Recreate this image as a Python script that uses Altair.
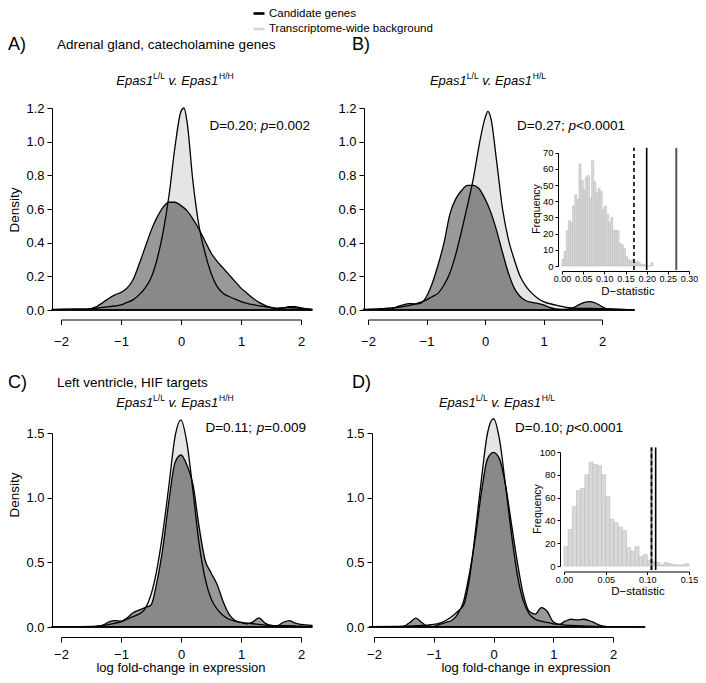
import altair as alt
import pandas as pd

FONT = "Liberation Sans"
W, H = 690, 667

# ---------------- density curves (log fold-change, density) ----------------
A_bg_x = [-2.15, -2.0, -1.8, -1.6, -1.4, -1.2, -1.0, -0.9, -0.8, -0.7, -0.6, -0.5, -0.4, -0.3, -0.2, -0.1,
          0.0, 0.05, 0.1, 0.2, 0.3, 0.4, 0.5, 0.6, 0.7, 0.8, 0.9, 1.0, 1.1, 1.2, 1.4, 1.6, 1.8, 2.0, 2.18]
A_bg_y = [0.003, 0.005, 0.006, 0.006, 0.012, 0.02, 0.03, 0.045, 0.06, 0.09, 0.13, 0.19, 0.3, 0.46, 0.68, 0.97,
          1.18, 1.2, 1.12, 0.76, 0.5, 0.34, 0.22, 0.14, 0.1, 0.08, 0.065, 0.05, 0.04, 0.032, 0.02, 0.01, 0.015, 0.01, 0.004]
A_c_x = [-2.15, -1.6, -1.5, -1.4, -1.3, -1.2, -1.1, -1.0, -0.9, -0.8, -0.7, -0.6, -0.5, -0.4, -0.3, -0.2, -0.1,
         0.0, 0.1, 0.2, 0.3, 0.4, 0.5, 0.6, 0.7, 0.8, 0.9, 1.0, 1.1, 1.2, 1.3, 1.4, 1.5, 1.6, 1.7, 1.8, 1.9, 2.0, 2.18]
A_c_y = [0.0, 0.002, 0.008, 0.022, 0.045, 0.07, 0.09, 0.105, 0.13, 0.18, 0.27, 0.37, 0.47, 0.55, 0.61, 0.64, 0.64,
         0.62, 0.59, 0.54, 0.48, 0.41, 0.34, 0.29, 0.25, 0.21, 0.17, 0.13, 0.1, 0.07, 0.045, 0.028, 0.016, 0.01, 0.012,
         0.02, 0.02, 0.012, 0.004]

B_bg_x = [-2.08, -1.8, -1.6, -1.4, -1.2, -1.0, -0.9, -0.8, -0.7, -0.6, -0.5, -0.4, -0.3, -0.2, -0.1, 0.0, 0.05,
          0.1, 0.2, 0.3, 0.4, 0.5, 0.6, 0.7, 0.8, 0.9, 1.0, 1.2, 1.4, 1.6, 1.8, 2.0, 2.2, 2.55]
B_bg_y = [0.004, 0.008, 0.012, 0.02, 0.035, 0.06, 0.08, 0.1, 0.15, 0.22, 0.33, 0.47, 0.62, 0.78, 0.98, 1.14, 1.18,
          1.14, 0.88, 0.6, 0.42, 0.3, 0.2, 0.14, 0.1, 0.07, 0.05, 0.03, 0.015, 0.01, 0.01, 0.008, 0.005, 0.002]
B_c_x = [-2.08, -1.7, -1.6, -1.5, -1.4, -1.3, -1.2, -1.1, -1.0, -0.9, -0.8, -0.7, -0.6, -0.5, -0.4, -0.3, -0.2,
         -0.1, 0.0, 0.1, 0.2, 0.3, 0.4, 0.5, 0.6, 0.7, 0.8, 0.9, 1.0, 1.1, 1.2, 1.3, 1.4, 1.5, 1.6, 1.7, 1.8, 1.9,
         2.0, 2.1, 2.55]
B_c_y = [0.0, 0.0, 0.005, 0.02, 0.03, 0.038, 0.036, 0.04, 0.08, 0.16, 0.27, 0.4, 0.57, 0.66, 0.71, 0.74, 0.74,
         0.72, 0.66, 0.58, 0.47, 0.34, 0.22, 0.13, 0.08, 0.055, 0.045, 0.04, 0.03, 0.015, 0.006, 0.003, 0.005, 0.012,
         0.03, 0.045, 0.05, 0.04, 0.02, 0.006, 0.0]

C_x = [-2.15, -1.8, -1.5, -1.4, -1.3, -1.2, -1.1, -1.0, -0.9, -0.8, -0.7, -0.6, -0.5, -0.4, -0.3, -0.2, -0.1,
       0.0, 0.1, 0.2, 0.3, 0.4, 0.5, 0.6, 0.7, 0.8, 0.9, 1.0, 1.1, 1.2, 1.3, 1.4, 1.5, 1.6, 1.7, 1.8, 1.9, 2.0, 2.18]
C_bg_y = [0.003, 0.003, 0.005, 0.008, 0.012, 0.02, 0.03, 0.04, 0.06, 0.08, 0.1, 0.14, 0.25, 0.45, 0.74, 1.1, 1.47,
          1.6, 1.42, 1.05, 0.65, 0.38, 0.22, 0.14, 0.09, 0.06, 0.045, 0.035, 0.03, 0.025, 0.02, 0.015, 0.012, 0.01,
          0.01, 0.01, 0.008, 0.006, 0.004]
C_c_y = [0.0, 0.0, 0.0, 0.002, 0.015, 0.04, 0.05, 0.045, 0.07, 0.11, 0.13, 0.15, 0.17, 0.35, 0.62, 0.98, 1.27,
         1.33, 1.25, 1.1, 0.78, 0.52, 0.42, 0.33, 0.2, 0.1, 0.05, 0.035, 0.025, 0.04, 0.07, 0.03, 0.012, 0.01, 0.035,
         0.05, 0.03, 0.02, 0.012]

D_x = [-2.07, -1.6, -1.5, -1.4, -1.3, -1.2, -1.1, -1.0, -0.9, -0.8, -0.7, -0.6, -0.5, -0.4, -0.3, -0.2, -0.1,
       0.0, 0.1, 0.2, 0.3, 0.4, 0.5, 0.6, 0.7, 0.8, 0.9, 1.0, 1.1, 1.2, 1.3, 1.4, 1.5, 1.6, 1.7, 1.8, 1.9, 2.0, 2.3, 2.53]
D_bg_y = [0.003, 0.005, 0.006, 0.008, 0.01, 0.012, 0.015, 0.02, 0.03, 0.05, 0.08, 0.12, 0.17, 0.38, 0.75, 1.15, 1.5,
          1.61, 1.45, 1.1, 0.72, 0.4, 0.2, 0.1, 0.06, 0.045, 0.035, 0.025, 0.02, 0.015, 0.012, 0.01, 0.008, 0.006,
          0.005, 0.004, 0.003, 0.003, 0.002, 0.001]
D_c_y = [0.0, 0.0, 0.005, 0.035, 0.068, 0.035, 0.006, 0.005, 0.02, 0.035, 0.05, 0.1, 0.2, 0.42, 0.7, 1.05, 1.3,
         1.35, 1.3, 1.1, 0.8, 0.5, 0.25, 0.12, 0.1, 0.15, 0.12, 0.04, 0.02, 0.045, 0.06, 0.055, 0.06, 0.05, 0.03,
         0.01, 0.002, 0.0, 0.0, 0.0]

# ---------------- permutation histograms of D-statistic ----------------
BIN_W = 0.005
HIST_B = [4, 9, 22, 28, 27, 37, 44, 41, 63, 53, 47, 55, 56, 42, 65, 52, 45, 48, 46, 35, 37, 32, 27, 30, 22, 22,
          22, 14, 13, 11, 6, 4, 3, 4, 2, 3, 2, 1, 1, 0, 0, 0, 2]
HIST_D = [17, 32, 52, 66, 68, 80, 91, 89, 88, 80, 61, 41, 38, 34, 31, 16, 13, 17, 8, 10, 5, 4, 3, 1, 3, 2, 1, 1,
          1, 2]
LINES_B = {"dashed": [0.17], "black": [0.20], "gray": [0.27]}
LINES_D = {"gray": [0.105], "dashed": [0.105], "black": [0.11]}

# ---------------- text ----------------
LEGEND = ["Candidate genes", "Transcriptome-wide background"]
HEAD_TOP = "Adrenal gland, catecholamine genes"
HEAD_BOT = "Left ventricle, HIF targets"
SUBS = {"A": "H/H", "B": "H/L", "C": "H/H", "D": "H/L"}
STATS = {"A": ("D=0.20; ", "=0.002"), "B": ("D=0.27; ", "<0.0001"),
         "C": ("D=0.11; ", "=0.009"), "D": ("D=0.10; ", "<0.0001")}

# Arial / Liberation Sans advance widths (1/1000 em)
WID = {' ': 278, '.': 278, ',': 278, ';': 278, '=': 584, '<': 584, '/': 278, '-': 333, ')': 333,
       'A': 667, 'B': 667, 'C': 722, 'D': 722, 'E': 667, 'H': 722, 'L': 556,
       'a': 556, 'e': 556, 'i': 222, 'l': 222, 'p': 556, 's': 500, 'v': 500}


def tw(s, size):
    return sum(WID.get(ch, 556) for ch in s) / 1000.0 * size


def label(s, x, y, size, style="normal", align="left", angle=0, baseline="middle"):
    return alt.Chart(pd.DataFrame({"t": [s]})).mark_text(
        align=align, baseline=baseline, font=FONT, fontSize=size, fontStyle=style,
        angle=angle, color="black"
    ).encode(text="t:N", x=alt.value(x), y=alt.value(y))


def rich(segs, x, yc, align="left"):
    # segs: (text, size, style, raise)
    total = sum(tw(t, s) for t, s, _, _ in segs)
    cur = x - total if align == "right" else (x - total / 2 if align == "center" else x)
    base = yc + 0.36 * segs[0][1]
    out = []
    for t, s, st, r in segs:
        lead = len(t) - len(t.lstrip())
        out.append(label(t.strip(), cur + tw(t[:lead], s), base - r, s, st, baseline="alphabetic"))
        cur += tw(t, s)
    return out


def subtitle(sup, xc, yc):
    return rich([("Epas1", 13, "italic", 0), ("L/L", 8.5, "normal", 5.5),
                 (" v. Epas1", 13, "italic", 0), (sup, 8.5, "normal", 5.5)], xc, yc, "center")


def stat(key, x, yc, align):
    a, b = STATS[key]
    return rich([(a, 13.5, "normal", 0), ("p", 13.5, "italic", 0), (b, 13.5, "normal", 0)], x, yc, align)


# ---------------- panels ----------------
def dens_panel(bx, by, cx, cy, xr, yr, ydom, yticks, xaxis_y, yaxis_x, xpad):
    xs = alt.Scale(domain=[-2, 2], range=xr, nice=False, zero=False)
    ys = alt.Scale(domain=ydom, range=yr, nice=False, zero=False)
    xax = alt.Axis(orient="bottom", offset=xaxis_y - H, values=[-2, -1, 0, 1, 2], format="d", title=None,
                   labelFontSize=13, tickSize=5, labelPadding=xpad)
    yax = alt.Axis(orient="left", offset=-yaxis_x, values=yticks, format=".1f", title=None,
                   labelFontSize=13, tickSize=5, labelPadding=3)

    def enc(df, mark):
        return alt.Chart(df).mark_area(**mark).encode(
            x=alt.X("x:Q", scale=xs, axis=xax),
            y=alt.Y("y:Q", scale=ys, axis=yax, stack=None),
            y2=alt.Y2("z:Q"),
        )

    bg = enc(pd.DataFrame({"x": bx, "y": by, "z": 0.0}),
             dict(fill="#e5e5e5", stroke="black", strokeWidth=1.3, interpolate="monotone"))
    cand = enc(pd.DataFrame({"x": cx, "y": cy, "z": 0.0}),
               dict(fill="black", fillOpacity=0.4, stroke="black", strokeWidth=1.3, interpolate="monotone"))
    return alt.layer(bg, cand)


def hist_panel(counts, lines, xdom, xr, xticks, ydom, yr, yticks, xaxis_y, yaxis_x, top):
    edges = [round(i * BIN_W, 4) for i in range(len(counts) + 1)]
    df = pd.DataFrame({"b0": edges[:-1], "b1": edges[1:], "n": counts, "z": 0})
    xs = alt.Scale(domain=xdom, range=xr, nice=False, zero=False)
    ys = alt.Scale(domain=ydom, range=yr, nice=False, zero=False)
    xax = alt.Axis(orient="bottom", offset=xaxis_y - H, values=xticks, format=".2f", title=None,
                   labelFontSize=9, tickSize=3, labelPadding=0.5)
    yax = alt.Axis(orient="left", offset=-yaxis_x, values=yticks, format="d", title=None,
                   labelFontSize=9.5, tickSize=3, labelPadding=2)
    bars = alt.Chart(df).mark_rect(fill="#d9d9d9", stroke="#bcbcbc", strokeWidth=0.6).encode(
        x=alt.X("b0:Q", scale=xs, axis=xax), x2="b1:Q",
        y=alt.Y("n:Q", scale=ys, axis=yax), y2="z:Q")
    layers = [bars]
    styles = {"gray": dict(color="#555555", strokeWidth=2),
              "black": dict(color="black", strokeWidth=1.6),
              "dashed": dict(color="black", strokeWidth=1.6, strokeDash=[4, 3])}
    for kind, vals in lines.items():
        ldf = pd.DataFrame({"d": vals, "lo": [-ydom[1] * 0.035] * len(vals), "hi": [top] * len(vals)})
        layers.append(alt.Chart(ldf).mark_rule(**styles[kind]).encode(
            x=alt.X("d:Q", scale=xs, axis=xax),
            y=alt.Y("lo:Q", scale=ys, axis=yax), y2="hi:Q"))
    return alt.layer(*layers)


pA = dens_panel(A_bg_x, A_bg_y, A_c_x, A_c_y, [53, 293], [302, 100], [0, 1.2],
                [0, 0.2, 0.4, 0.6, 0.8, 1.0, 1.2], 311.5, 44, 11)
pB = dens_panel(B_bg_x, B_bg_y, B_c_x, B_c_y, [360, 594], [302, 100], [0, 1.2],
                [0, 0.2, 0.4, 0.6, 0.8, 1.0, 1.2], 311.5, 356, 11)
pC = dens_panel(C_x, C_bg_y, C_x, C_c_y, [53, 293], [619, 425], [0, 1.5],
                [0, 0.5, 1.0, 1.5], 629, 44, 6)
pD = dens_panel(D_x, D_bg_y, D_x, D_c_y, [366, 605], [619, 425], [0, 1.5],
                [0, 0.5, 1.0, 1.5], 629, 364, 6)

iB = hist_panel(HIST_B, LINES_B, [0, 0.3], [554, 681], [0, 0.05, 0.1, 0.15, 0.2, 0.25, 0.3],
                [0, 70], [258, 144.7], [0, 10, 20, 30, 40, 50, 60, 70], 263, 550, 73)
iD = hist_panel(HIST_D, LINES_D, [0, 0.15], [556, 681], [0, 0.05, 0.1, 0.15],
                [0, 100], [558, 444], [0, 20, 40, 60, 80, 100], 563.5, 552, 104)

# legend (real Vega-Lite legend driven by a colour scale)
leg = alt.Chart(pd.DataFrame({"series": LEGEND})).mark_line().encode(
    x=alt.value(0), y=alt.value(0),
    color=alt.Color("series:N", scale=alt.Scale(domain=LEGEND, range=["black", "#d6d6d6"]),
                    legend=alt.Legend(orient="none", legendX=244, legendY=-1.5, title=None, labelFont=FONT,
                                      labelFontSize=11.5, labelColor="black", labelLimit=0,
                                      symbolType="stroke", symbolSize=121, symbolStrokeWidth=2.6,
                                      labelOffset=3, rowPadding=2.5, padding=0))
).transform_filter("false")

texts = [
    label("A)", 0, 37, 18), label(HEAD_TOP, 49, 37, 13.5), label("B)", 344, 37, 18),
    label("C)", 0, 375, 18), label(HEAD_BOT, 49, 375, 13.5), label("D)", 344, 375, 18),
    label("Density", 7, 202, 13.5, angle=270, align="center"),
    label("Density", 7, 487, 13.5, angle=270, align="center"),
    label("log fold-change in expression", 173, 660, 13, align="center"),
    label("log fold-change in expression", 518, 660, 13, align="center"),
    label("Frequency", 529, 201, 10.5, angle=270, align="center"),
    label("D\u2212statistic", 620, 284, 11.5, align="center"),
    label("Frequency", 530, 501, 10.5, angle=270, align="center"),
    label("D\u2212statistic", 630, 584, 11.5, align="center"),
]
texts += subtitle(SUBS["A"], 167, 72) + subtitle(SUBS["B"], 480, 72)
texts += subtitle(SUBS["C"], 167, 394) + subtitle(SUBS["D"], 489, 394)
texts += stat("A", 302, 117, "right") + stat("B", 509, 117, "left")
texts += stat("C", 298, 419, "right") + stat("D", 507, 419, "left")

chart = alt.layer(pA, pB, pC, pD, iB, iD, leg, *texts).resolve_scale(
    x="independent", y="independent"
).properties(
    width=W, height=H, autosize=alt.AutoSizeParams(type="none"), padding=0, background="white"
).configure_view(stroke=None).configure_axis(
    domainColor="black", tickColor="black", labelColor="black", labelFont=FONT, grid=False,
    domainWidth=1, tickWidth=1, labelFlush=False, labelOverlap=False
)

chart.save("out.html", embed_options={"renderer": "svg", "actions": False})
